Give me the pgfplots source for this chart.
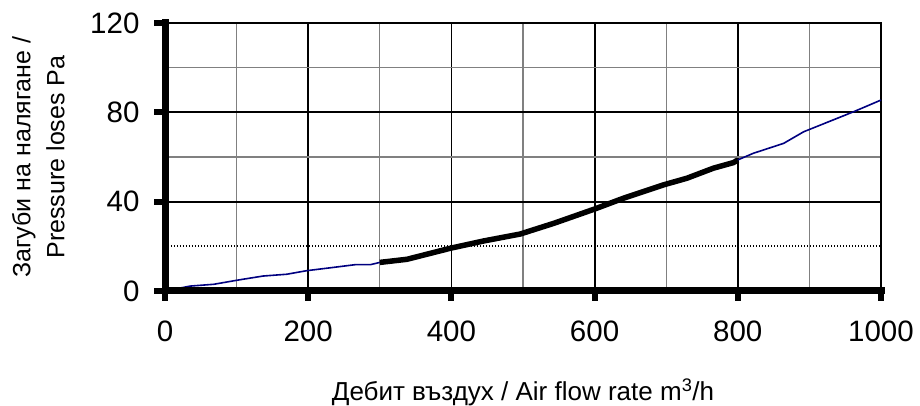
\documentclass[border=0pt]{standalone}
\usepackage{fontspec}
\setmainfont{Liberation Sans}
\usepackage{pgfplots}
\pgfplotsset{compat=1.18}
\definecolor{lineblue}{RGB}{0,0,128}
\begin{document}
\begin{tikzpicture}[x=1pt,y=1pt]
\useasboundingbox (-165,-115) rectangle (755,291);
\begin{axis}[
    at={(0,0)}, anchor=south west,
    scale only axis, width=716pt, height=268pt,
    xmin=0, xmax=1000, ymin=0, ymax=120,
    xtick={0,200,...,1000}, ytick={0,40,80,120},
    minor xtick={100,300,...,900}, minor ytick={60,100},
    extra y ticks={20}, extra y tick labels={},
    extra y tick style={grid style={dash pattern=on 1pt off 2pt, gray!45, line width=0.9pt}},
    grid=both,
    major grid style={black, line width=1.8pt},
    minor grid style={gray, line width=1.2pt},
    axis line style={black, line width=1.8pt},
    xtick pos=bottom, ytick pos=left,
    major tick length=0pt, minor tick length=0pt,
    ticklabel style={font=\fontsize{29.5}{32}\selectfont},
    xticklabel style={yshift=-26pt},
    yticklabel style={xshift=-22pt},
    /pgf/number format/assume math mode=true,
    /pgf/number format/1000 sep={},
    every axis x label/.style={at={(axis description cs:0.5,-0.407)}, anchor=base, font=\fontsize{26}{30}\selectfont},
    every axis y label/.style={at={(axis description cs:-0.177,0.5)}, rotate=90, anchor=center, align=center, font=\fontsize{25}{34}\selectfont},
    xlabel={Дебит въздух / Air flow rate m\textsuperscript{3}/h},
    ylabel={Загуби на налягане /\\Pressure loses Pa},
    clip=false,
]
\addplot[lineblue, line width=1.6pt] coordinates {
    (0,0) (35,2.2) (68,3) (102,4.9) (137,6.7) (170,7.5) (198,9.1)
    (231,10.4) (266,11.8) (287,11.8) (300,12.8)
};
\addplot[black, line width=5.5pt] coordinates {
    (300,12.8) (338,14.2) (398,19.1) (445,22.4) (496,25.5) (543,30.3)
    (600,36.7) (640,41.5) (696,47.5) (729,50.5) (766,55) (794,57.5) (800,58.7)
};
\addplot[lineblue, line width=1.6pt] coordinates {
    (800,58.7) (822,61.7) (864,66.1) (892,71.3) (962,80.3) (1000,85.5)
};
\end{axis}
% thick left and bottom axis lines with their tick marks
\draw[black, line width=7pt, line cap=rect] (0,268) -- (0,0) -- (716,0);
\foreach \yy in {0,89.33,178.67,268} {
    \draw[black, line width=6pt] (0,\yy) -- (-11,\yy);
}
\foreach \xx in {0,143.2,286.4,429.6,572.8,716} {
    \draw[black, line width=6pt] (\xx,0) -- (\xx,-10);
}
\end{tikzpicture}
\end{document}
